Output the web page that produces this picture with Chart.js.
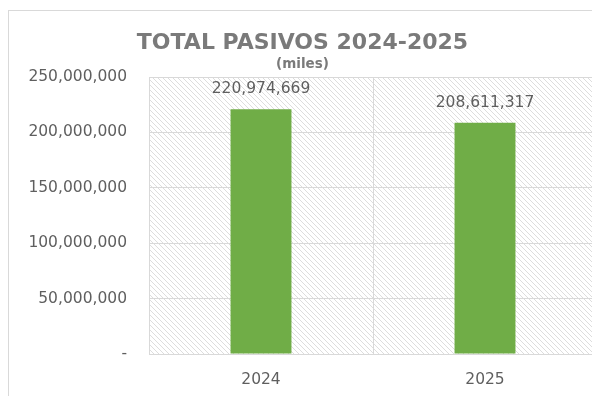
<!DOCTYPE html>
<html><head><meta charset="utf-8">
<script src="https://cdn.jsdelivr.net/npm/chart.js@4/dist/chart.umd.min.js"></script>
<style>
html,body{margin:0;padding:0;background:#fff;overflow:hidden;width:592px;height:396px;}
#frame{position:absolute;left:8px;top:10px;width:700px;height:500px;border-left:1px solid #d9d9d9;border-top:1px solid #d9d9d9;}
#wrap{position:absolute;left:0;top:0;width:600px;height:396px;}
</style></head><body>
<div id="frame"></div>
<div id="wrap"><canvas id="c" width="600" height="396"></canvas></div>
<script>
const categories = ['2024', '2025'];
const values = [220974669, 208611317];
const yTicks = [0, 50000000, 100000000, 150000000, 200000000, 250000000];
const titleText = 'TOTAL PASIVOS 2024-2025';
const subtitleText = '(miles)';

const fmt = v => v === 0 ? '-' : v.toLocaleString('en-US');
const FONT = "'DejaVu Sans', sans-serif";

function hatch() {
  const p = document.createElement('canvas');
  p.width = 5; p.height = 5;
  const g = p.getContext('2d');
  g.fillStyle = '#ffffff'; g.fillRect(0,0,5,5);
  g.strokeStyle = '#d4d4d4'; g.lineWidth = 0.8;
  g.beginPath();
  g.moveTo(-1,-1); g.lineTo(6,6);
  g.moveTo(-1,4); g.lineTo(1,6);
  g.moveTo(4,-1); g.lineTo(6,1);
  g.stroke();
  return p;
}

const bgPlugin = {
  id: 'bg',
  beforeDraw(chart) {
    const {ctx, chartArea:a} = chart;
    ctx.save();
    ctx.fillStyle = ctx.createPattern(hatch(), 'repeat');
    ctx.fillRect(a.left, a.top, a.right - a.left, a.bottom - a.top);
    ctx.restore();
  }
};
const labelPlugin = {
  id: 'vals',
  afterDatasetsDraw(chart) {
    const {ctx} = chart;
    const meta = chart.getDatasetMeta(0);
    ctx.save();
    ctx.font = "15.5px " + FONT;
    ctx.fillStyle = '#5f5f5f';
    ctx.textAlign = 'center';
    ctx.textBaseline = 'middle';
    meta.data.forEach((el, i) => {
      ctx.fillText(fmt(values[i]), el.x, el.y - 20);
    });
    ctx.restore();
  }
};

new Chart(document.getElementById('c'), {
  type: 'bar',
  data: { labels: categories, datasets: [{ data: values, backgroundColor: '#70ad47', barPercentage: 0.272, categoryPercentage: 1 }] },
  options: {
    responsive: false, animation: false,
    layout: { padding: { left: 8, right: 3, top: 0, bottom: 0 } },
    plugins: {
      legend: { display: false }, tooltip: { enabled: false },
      title: { display: true, text: titleText, color: '#7a7a7a',
        font: { family: FONT, size: 22, weight: 'bold', lineHeight: 1.2 }, padding: { top: 30, bottom: 0 } },
      subtitle: { display: true, text: subtitleText, color: '#7a7a7a',
        font: { family: FONT, size: 13.5, weight: 'bold', lineHeight: 1.2 }, padding: { top: 0, bottom: 4.4 } }
    },
    scales: {
      x: {
        grid: { color: '#d9d9d9', drawTicks: false, offset: true },
        border: { color: '#d9d9d9' },
        ticks: { color: '#5f5f5f', font: { family: FONT, size: 15.5 }, padding: 17 },
        afterFit(s) { s.height = 42; }
      },
      y: {
        min: 0, max: 250000000,
        grid: { color: '#d9d9d9', drawTicks: false },
        border: { color: '#d9d9d9' },
        afterBuildTicks(s) { s.ticks = yTicks.map(v => ({ value: v })); },
        ticks: { color: '#5f5f5f', font: { family: FONT, size: 15.5 }, padding: 22, callback: v => fmt(v) },
        afterFit(s) { s.width = 141; }
      }
    }
  },
  plugins: [bgPlugin, labelPlugin]
});
</script>
</body></html>
